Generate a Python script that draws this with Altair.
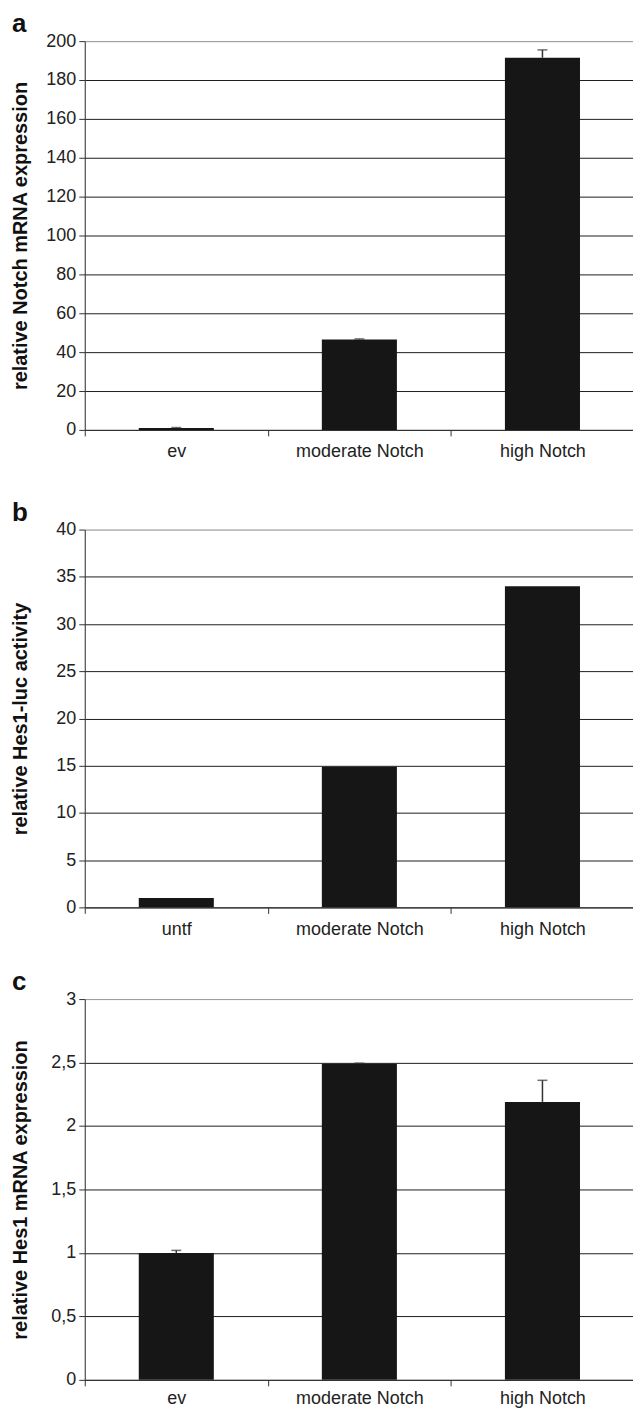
import altair as alt
import pandas as pd

FONT = "Liberation Sans"

# Panel a
a_cats = ["ev", "moderate Notch", "high Notch"]
a_vals = [1.0, 46.5, 191.5]
a_err = [0.2, 0.3, 4.0]
a_ticks = [0, 20, 40, 60, 80, 100, 120, 140, 160, 180, 200]
a_title = "relative Notch mRNA expression"

# Panel b
b_cats = ["untf", "moderate Notch", "high Notch"]
b_vals = [1.0, 14.9, 34.0]
b_err = [0.0, 0.0, 0.0]
b_ticks = [0, 5, 10, 15, 20, 25, 30, 35, 40]
b_title = "relative Hes1-luc activity"

# Panel c
c_cats = ["ev", "moderate Notch", "high Notch"]
c_vals = [1.0, 2.49, 2.19]
c_err = [0.02, 0.005, 0.17]
c_ticks = [0, 0.5, 1, 1.5, 2, 2.5, 3]
c_title = "relative Hes1 mRNA expression"

W = 551


def panel(letter, cats, vals, errs, ticks, title, h, comma=False, extra_top=0, lpad=7):
    df = pd.DataFrame({"cat": cats, "val": vals, "err": errs})
    df["top"] = df["val"] + df["err"]
    top = ticks[-1]
    xenc = alt.X(
        "cat:N",
        sort=cats,
        scale=alt.Scale(paddingInner=0, paddingOuter=0),
        axis=alt.Axis(
            title=None, labelAngle=0, labelFont=FONT, labelFontSize=18,
            labelColor="#222", labelPadding=lpad, tickBand="extent", tickSize=6,
            tickColor="#333", domainColor="#333", grid=False,
        ),
    )
    yaxis = dict(
        title=title, titleFont=FONT, titleFontSize=20, titleFontWeight="bold",
        titleColor="#111", titleX=-64, titleY=h / 2, titleAngle=-90,
        titleAlign="center", titleBaseline="middle",
        values=ticks, tickCount=len(ticks) + 2, labelOverlap=False,
        labelFont=FONT, labelFontSize=18, labelColor="#222",
        labelPadding=3, tickSize=6, tickColor="#333", domainColor="#333",
        grid=True, gridWidth=1,
        gridColor={"condition": {"test": f"datum.value >= {top}", "value": "#999999"},
                   "value": "#1e1e1e"},
    )
    if comma:
        yaxis["format"] = "~g"
        yaxis["labelExpr"] = "replace(datum.label, '.', ',')"
    yenc = alt.Y("val:Q", scale=alt.Scale(domain=[0, top], nice=False),
                 axis=alt.Axis(**yaxis))
    base = alt.Chart(df)
    bars = base.mark_bar(color="#161616", width={"band": 0.41}).encode(x=xenc, y=yenc)
    edf = df[df["err"] > 0]
    layers = [bars]
    if len(edf):
        eb = alt.Chart(edf)
        rule = eb.mark_rule(color="#333", strokeWidth=1.5).encode(
            x=alt.X("cat:N", sort=cats), y="val:Q", y2="top:Q")
        cap = eb.mark_tick(color="#333", thickness=1.5, size=10, orient="horizontal").encode(
            x=alt.X("cat:N", sort=cats), y="top:Q")
        layers += [rule, cap]
    ldf = pd.DataFrame({"t": [letter]})
    lab = alt.Chart(ldf).mark_text(
        font=FONT, fontSize=26, fontWeight="bold", align="left",
        baseline="alphabetic", color="#111"
    ).encode(x=alt.value(-73), y=alt.value(-9), text="t:N")
    layers.append(lab)
    if extra_top:
        ghost = alt.Chart(ldf).mark_text(
            font=FONT, fontSize=26, fontWeight="bold", align="left",
            baseline="alphabetic", opacity=0
        ).encode(x=alt.value(-73), y=alt.value(-9 - extra_top), text="t:N")
        layers.append(ghost)
    return alt.layer(*layers).properties(width=W, height=h)


pa = panel("a", a_cats, a_vals, a_err, a_ticks, a_title, 390)
pb = panel("b", b_cats, b_vals, b_err, b_ticks, b_title, 379, extra_top=8)
pc = panel("c", c_cats, c_vals, c_err, c_ticks, c_title, 382, comma=True, lpad=4)

chart = alt.vconcat(pa, pb, pc, spacing=29).properties(
    padding={"left": 2, "top": 0, "right": -2, "bottom": 0}
).configure_view(stroke="#999999", strokeWidth=1).configure(background="white")

chart.save("out.html", embed_options={"renderer": "svg", "actions": False})
